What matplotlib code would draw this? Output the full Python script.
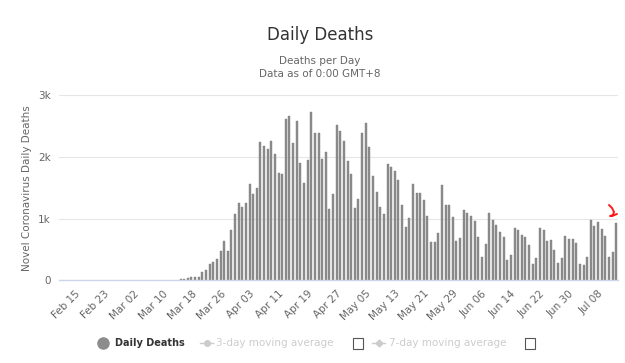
import numpy as np
import pandas as pd
import matplotlib
matplotlib.use('Agg')
import matplotlib.pyplot as plt
from matplotlib.lines import Line2D

# daily deaths, Mar 15 .. Jul 13
start_date = '2020-03-15'
deaths = [
    16, 22, 43, 60, 60, 60, 130, 168, 265, 303, 340, 481, 638, 481, 811, 1076, 1249,
    1189, 1259, 1557, 1400, 1503, 2238, 2178, 2124, 2259, 2043, 1746, 1730, 2611, 2665,
    2232, 2584, 1903, 1578, 1957, 2724, 2384, 2384, 1973, 2086, 1157, 1395, 2514, 2427,
    2259, 1935, 1719, 1168, 1324, 2384, 2551, 2157, 1692, 1438, 1189, 1070, 1886, 1843,
    1778, 1627, 1222, 870, 1011, 1562, 1416, 1416, 1303, 1038, 616, 622, 768, 1546,
    1222, 1222, 1027, 643, 681, 1135, 1092, 1038, 962, 697, 373, 584, 1092, 978, 897,
    778, 697, 330, 411, 843, 811, 735, 708, 573, 259, 357, 854, 811, 638, 654, 497,
    276, 357, 714, 665, 665, 611, 259, 243, 373, 978, 881, 941, 838, 714, 373, 454, 924,
]
axis_start = '2020-02-11'
axis_end = '2020-07-13'
tick_start = '2020-02-15'
y_ticks = [0, 1000, 2000, 3000]
y_labels = ['0', '1k', '2k', '3k']

dates = pd.date_range(start_date, periods=len(deaths), freq='D')

fig = plt.figure(figsize=(6.25, 3.63), dpi=100)
ax = fig.add_axes([59 / 625, 1 - 280.3 / 363, 559 / 625, 185 / 363])

ax.bar(dates, deaths, width=0.55, color='#8c8c8c', edgecolor='#808080', linewidth=0.3)

x0 = pd.Timestamp(axis_start) - pd.Timedelta(hours=12)
x1 = pd.Timestamp(axis_end) + pd.Timedelta(hours=12)
ax.set_xlim(x0, x1)
ax.set_ylim(0, 3000)

ticks = pd.date_range(tick_start, axis_end, freq='8D')
ax.set_xticks(ticks)
ax.set_xticklabels([d.strftime('%b %d') for d in ticks], rotation=45, ha='right',
                   rotation_mode='anchor', fontsize=7.5, color='#666666')
ax.tick_params(axis='x', length=0, pad=6)

ax.set_yticks(y_ticks)
ax.set_yticklabels(y_labels, fontsize=7.5, color='#666666')
ax.tick_params(axis='y', length=0, pad=6)
ax.grid(axis='y', color='#e6e6e6', linewidth=0.8)
ax.set_axisbelow(True)

for s in ['top', 'right', 'left']:
    ax.spines[s].set_visible(False)
ax.spines['bottom'].set_color('#ccd6eb')
ax.spines['bottom'].set_linewidth(1)

ax.set_ylabel('Novel Coronavirus Daily Deaths', fontsize=7.5, color='#666666', labelpad=4)

fig.text(320 / 625, 1 - 35 / 363, 'Daily Deaths', ha='center', va='center',
         fontsize=12, color='#333333')
fig.text(320 / 625, 1 - 61 / 363, 'Deaths per Day', ha='center', va='center',
         fontsize=7.5, color='#666666')
fig.text(320 / 625, 1 - 74 / 363, 'Data as of 0:00 GMT+8', ha='center', va='center',
         fontsize=7.5, color='#666666')

# legend (drawn by hand, like the html one)
ly = 1 - 343 / 363
def fx(px):
    return px / 625

fig.add_artist(Line2D([fx(103)], [ly], marker='o', markersize=8, color='#8c8c8c',
                      transform=fig.transFigure))
fig.text(fx(115), ly, 'Daily Deaths', va='center', fontsize=7, fontweight='bold', color='#333333')
fig.add_artist(Line2D([fx(200), fx(213)], [ly, ly], color='#cccccc', lw=1,
                      transform=fig.transFigure))
fig.add_artist(Line2D([fx(206.5)], [ly], marker='o', markersize=4, color='#cccccc',
                      transform=fig.transFigure))
fig.text(fx(216), ly, '3-day moving average', va='center', fontsize=7.5, color='#cccccc')
fig.add_artist(Line2D([fx(372), fx(385)], [ly, ly], color='#cccccc', lw=1,
                      transform=fig.transFigure))
fig.add_artist(Line2D([fx(378.5)], [ly], marker='D', markersize=3.5, color='#cccccc',
                      transform=fig.transFigure))
fig.text(fx(389), ly, '7-day moving average', va='center', fontsize=7.5, color='#cccccc')
for cx in [358, 530]:
    fig.add_artist(plt.Rectangle((fx(cx - 5), 1 - 349 / 363), 10 / 625, 11 / 363,
                                 fill=False, edgecolor='#555555', lw=0.8,
                                 transform=fig.transFigure))

# red hand-drawn mark
mx = [609, 612, 614, 613, 610, 612, 617]
my = [205, 208, 212, 215, 216, 216, 214]
fig.add_artist(Line2D([fx(v) for v in mx], [1 - v / 363 for v in my], color='#ff1a1a',
                      lw=1.4, solid_capstyle='round', transform=fig.transFigure))

fig.savefig('out.png', dpi=100, facecolor='white')
